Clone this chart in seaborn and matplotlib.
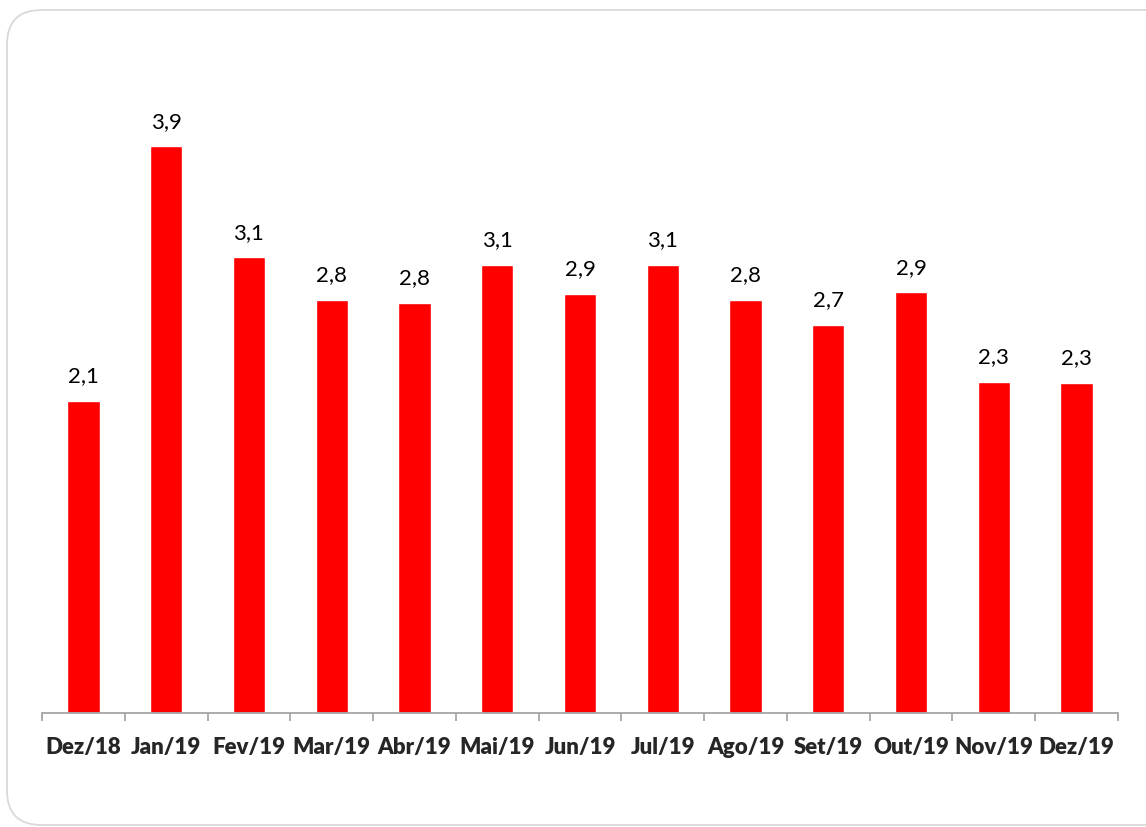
import matplotlib
matplotlib.use("Agg")
import matplotlib.pyplot as plt
import seaborn as sns
import pandas as pd
from matplotlib.patches import FancyBboxPatch

months = ["Dez/18", "Jan/19", "Fev/19", "Mar/19", "Abr/19", "Mai/19", "Jun/19",
          "Jul/19", "Ago/19", "Set/19", "Out/19", "Nov/19", "Dez/19"]
values = [2.14, 3.88, 3.12, 2.83, 2.81, 3.07, 2.87, 3.07, 2.83, 2.66, 2.88, 2.27, 2.26]

df = pd.DataFrame({"mes": months, "valor": values})

sns.set_style("white")
plt.rcParams['font.family'] = ['Lato', 'DejaVu Sans']

fig = plt.figure(figsize=(11.46, 8.27), dpi=100)
ax = fig.add_axes([42 / 1146, 1 - 713 / 827, (1118 - 42) / 1146, 660 / 827])

sns.barplot(data=df, x="mes", y="valor", color="#ff0000", saturation=1, width=0.39, ax=ax)
ax.set_xlim(-0.5, len(months) - 0.5)
ax.set_ylim(0, 4.52)

for i, v in enumerate(values):
    ax.text(i, v + 0.1, f"{v:.1f}".replace(".", ","), ha="center", va="bottom",
            fontsize=16, color="black")

for s in ["top", "right", "left"]:
    ax.spines[s].set_visible(False)
ax.spines["bottom"].set_color("#a6a6a6")
ax.spines["bottom"].set_linewidth(1.3)
ax.set_yticks([])
ax.set_xticks([x + 0.5 for x in range(-1, len(months))], minor=True)
ax.tick_params(axis="x", which="minor", bottom=True, length=6, color="#a6a6a6", width=1.3, direction="out")
ax.tick_params(axis="x", which="major", bottom=False, length=0, pad=17, labelsize=16)
for lbl in ax.get_xticklabels():
    lbl.set_fontweight("heavy")
ax.set_xlabel("")
ax.set_ylabel("")

frame = FancyBboxPatch((7 / 1146, 2 / 827), 1.05, 815 / 827,
                       boxstyle="round,pad=0,rounding_size=0.03",
                       transform=fig.transFigure, fill=False,
                       edgecolor="#d9d9d9", linewidth=1.3, mutation_aspect=1146 / 827)
fig.patches.append(frame)

fig.savefig("out.png", dpi=100)
